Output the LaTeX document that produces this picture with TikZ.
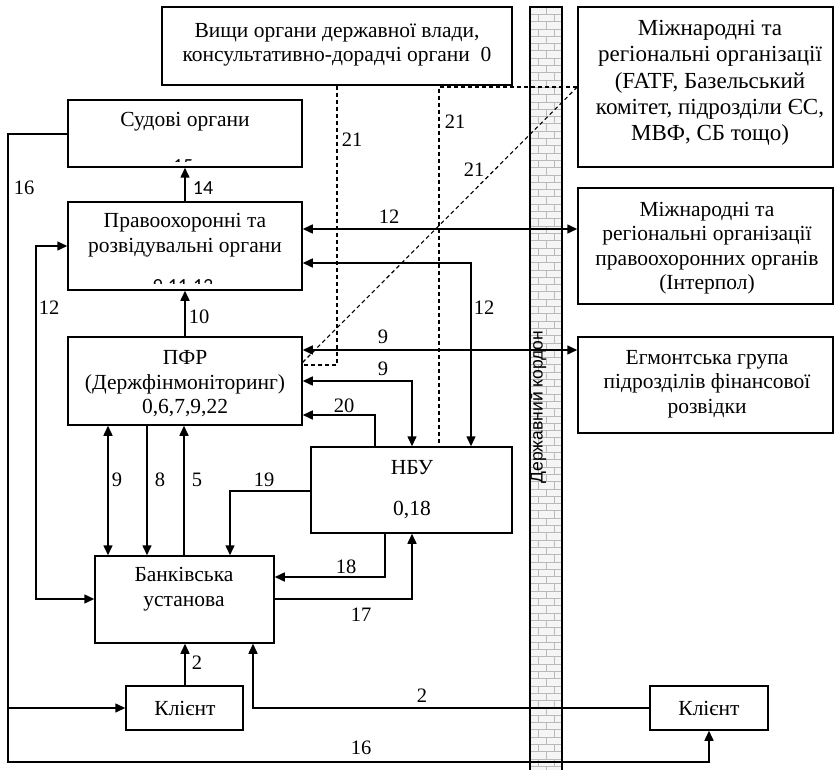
\documentclass[tikz,border=0pt]{standalone}
\usepackage{fontspec}
\setmainfont{Liberation Serif}
\newfontfamily\bordersans{Liberation Sans}
\newfontfamily\calib{Carlito}
\usetikzlibrary{arrows.meta,fit}

\tikzset{
  box/.style={draw, line width=1.5pt, inner sep=0pt},
  txt/.style={align=center, inner sep=0pt, font=\fontsize{21.5}{24.5}\selectfont},
  bigtxt/.style={align=center, inner sep=0pt, font=\fontsize{23}{26.2}\selectfont},
  lbl/.style={inner sep=0pt, font=\fontsize{20.5}{22}\selectfont},
  slbl/.style={inner sep=0pt, font=\calib\fontsize{20}{22}\selectfont},
  link/.style={line width=1.5pt},
  tip/.style={-{Triangle[length=10pt,width=9pt]}},
  tips/.style={{Triangle[length=10pt,width=9pt]}-{Triangle[length=10pt,width=9pt]}},
  dash21/.style={line width=1.1pt, dash pattern=on 4pt off 3pt},
  mortar/.style={draw=gray!55, line width=0.6pt}
}

\begin{document}
\begin{tikzpicture}[x=1pt,y=-1pt]
\useasboundingbox (0,0) rectangle (835,770);

% state border: brick column
\begin{scope}
  \clip (530,7) rectangle (562,775);
  \fill[gray!8] (530,7) rectangle (562,775);
  \foreach \i in {0,...,105} {
    \pgfmathsetmacro\yy{7+\i*7.3}
    \pgfmathsetmacro\off{mod(\i,2)*8}
    \draw[mortar] (530,\yy) -- (562,\yy);
    \foreach \k in {0,1,2} {
      \draw[mortar] (530+\off+\k*16,\yy) -- ++(0,7.3);
    }
  }
\end{scope}
\draw[line width=1.3pt] (530,775) -- (530,7) -- (562,7) -- (562,775);
\node[rotate=90, inner sep=0pt, font=\bordersans\fontsize{17.5}{20}\selectfont] (kordon) at (538,407) {Державний кордон};

% boxes
\node[box, fit={(162,7)(512,85)}] (vysh) {};
\node[box, fit={(68,100)(302,167)}] (sud) {};
\node[box, fit={(68,202)(302,290)}] (pravo) {};
\node[box, fit={(68,337)(302,425)}] (pfr) {};
\node[box, fit={(311,447)(512,533)}] (nbu) {};
\node[box, fit={(95,556)(274,643)}] (bank) {};
\node[box, fit={(126,686)(243,730)}] (kl1) {};
\node[box, fit={(650,686)(768,730)}] (kl2) {};
\node[box, fit={(578,7)(833,167)}] (mr1) {};
\node[box, fit={(578,188)(833,304)}] (mr2) {};
\node[box, fit={(578,337)(833,433)}] (egm) {};

% box texts
\node[txt] (vyshT) at (337,45) {Вищи органи державної влади,\\консультативно-дорадчі органи~~0};
\node[txt] (sudT) at (185,122) {Судові органи};
\begin{scope}
  \clip (70,150) rectangle (300,162);
  \node[slbl] (sudN) at (183,166) {15};
\end{scope}
\node[txt] (pravoT) at (185,235) {Правоохоронні та\\розвідувальні органи};
\begin{scope}
  \clip (70,270) rectangle (300,283.5);
  \node[slbl] (pravoN) at (183,287.5) {9,11,13};
\end{scope}
\node[txt] (pfrT) at (185,384) {ПФР\\(Держфінмоніторинг)\\0,6,7,9,22};
\node[txt] (nbuT) at (412,468) {НБУ};
\node[txt] (nbuN) at (412,510) {0,18};
\node[txt] (bankT) at (184,589) {Банківська\\установа};
\node[txt] (kl1T) at (185,708) {Клієнт};
\node[txt] (kl2T) at (709,708) {Клієнт};
\node[bigtxt] (mr1T) at (710,83) {Міжнародні та\\регіональні організації\\(FATF, Базельський\\комітет, підрозділи ЄС,\\МВФ, СБ тощо)};
\node[txt] (mr2T) at (707,248) {Міжнародні та\\регіональні організації\\правоохоронних органів\\(Інтерпол)};
\node[txt] (egmT) at (707,384) {Егмонтська група\\підрозділів фінансової\\розвідки};

% dashed links (21)
\draw[dash21] (vysh.south -| 337,0) -- (337,365) -- (pfr.east |- 0,365);
\draw[dash21] (mr1.west |- 0,87) -- (439,87) -- (nbu.north -| 439,0);
\draw[dash21] (mr1.west |- 0,87) -- (302,363);
\node[lbl] (l21a) at (352,140) {21};
\node[lbl] (l21b) at (455,122) {21};
\node[lbl] (l21c) at (474,170) {21};

% vertical links between the left column of boxes
\draw[link,tip] (pravo.north -| 185,0) -- (sud.south -| 185,0);
\node[slbl] (l14) at (203,188) {14};
\draw[link,tip] (pfr.north -| 185,0) -- (pravo.south -| 185,0);
\node[lbl] (l10) at (199,317) {10};

% 12
\draw[link,tips] (pravo.west |- 0,246) -- (36,246) -- (36,599) -- (bank.west |- 0,599);
\node[lbl] (l12a) at (49,308) {12};
\draw[link,tips] (pravo.east |- 0,229) -- (mr2.west |- 0,229);
\node[lbl] (l12b) at (389,217) {12};
\draw[link,tips] (pravo.east |- 0,263) -- (471,263) -- (nbu.north -| 471,0);
\node[lbl] (l12c) at (484,308) {12};

% 9, 20
\draw[link,tips] (pfr.east |- 0,350) -- (egm.west |- 0,350);
\node[lbl] (l9a) at (383,337) {9};
\draw[link,tips] (pfr.east |- 0,381) -- (412,381) -- (nbu.north -| 412,0);
\node[lbl] (l9b) at (383,369) {9};
\draw[link,tip] (nbu.north -| 375,0) -- (375,415) -- (pfr.east |- 0,415);
\node[lbl] (l20) at (344,406) {20};

% PFR <-> bank
\draw[link,tips] (pfr.south -| 108,0) -- (bank.north -| 108,0);
\node[lbl] (l9c) at (117,480) {9};
\draw[link,tip] (pfr.south -| 147,0) -- (bank.north -| 147,0);
\node[lbl] (l8) at (160,480) {8};
\draw[link,tip] (bank.north -| 184,0) -- (pfr.south -| 184,0);
\node[lbl] (l5) at (197,480) {5};

% NBU <-> bank
\draw[link,tip] (nbu.west |- 0,491) -- (230,491) -- (bank.north -| 230,0);
\node[lbl] (l19) at (264,480) {19};
\draw[link,tip] (nbu.south -| 385,0) -- (385,577) -- (bank.east |- 0,577);
\node[lbl] (l18) at (346,567) {18};
\draw[link,tip] (bank.east |- 0,599) -- (412,599) -- (nbu.south -| 412,0);
\node[lbl] (l17) at (361,615) {17};

% clients
\draw[link,tip] (kl1.north -| 185,0) -- (bank.south -| 185,0);
\node[lbl] (l2a) at (197,663) {2};
\draw[link,tip] (kl2.west |- 0,708) -- (253,708) -- (bank.south -| 253,0);
\node[lbl] (l2b) at (422,696) {2};

% 16
\coordinate (c16) at (8,708);
\draw[link,tip] (sud.west |- 0,134) -- (8,134) -- (8,762) -- (709,762) -- (kl2.south -| 709,0);
\draw[link,tip] (c16) -- (kl1.west |- c16);
\node[lbl] (l16a) at (24,188) {16};
\node[lbl] (l16b) at (361,748) {16};
\end{tikzpicture}
\end{document}
